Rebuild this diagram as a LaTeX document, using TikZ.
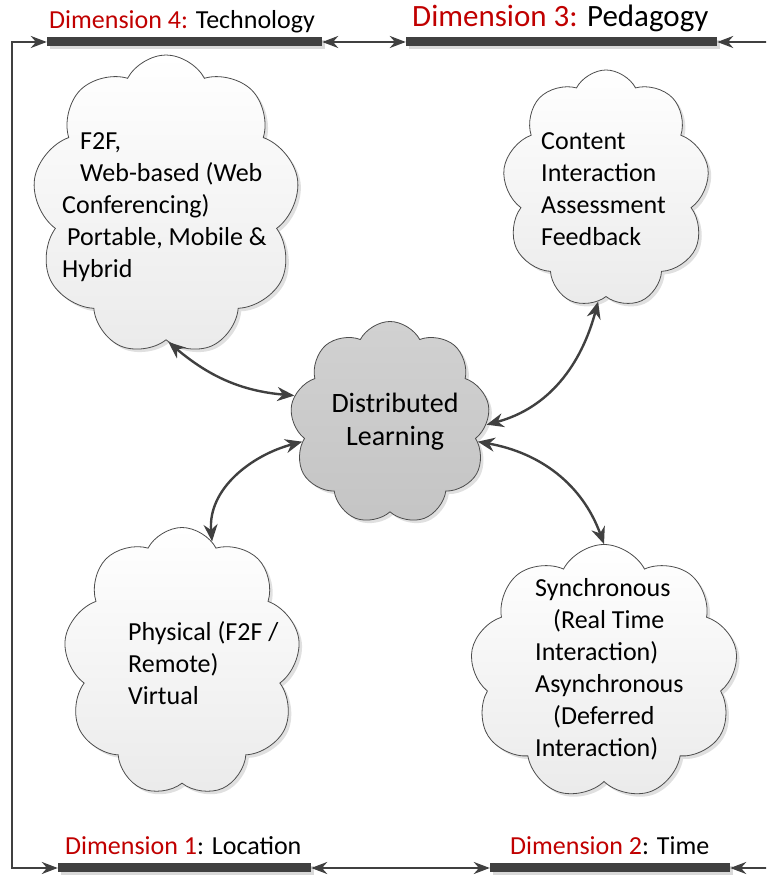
\documentclass[tikz,border=0pt]{standalone}
\usepackage{fontspec}
\setmainfont{Carlito}
\usepackage{xcolor}
\usetikzlibrary{arrows.meta}
\usetikzlibrary{shapes.symbols}
\usetikzlibrary{shadows}

\definecolor{dimred}{RGB}{192,0,0}
\definecolor{linegray}{RGB}{64,64,64}

\tikzset{
	bar/.style={fill=linegray, minimum height=9pt, inner sep=0pt,
		drop shadow={shadow xshift=3pt, shadow yshift=-3pt, fill=black!15, opacity=1}},
	framearrow/.style={draw=linegray, line width=2.2pt,
		{Stealth[length=16pt,width=12pt]}-{Stealth[length=16pt,width=12pt]}},
	dimlabel/.style={anchor=base west, inner sep=0pt, font=\fontsize{26}{31}\selectfont},
	cloudbox/.style={cloud, cloud puffs=9, cloud puff arc=125, cloud ignores aspect,
		draw=black!70, line width=0.8pt, top color=white, bottom color=black!8, inner sep=0pt,
		drop shadow={shadow xshift=3pt, shadow yshift=-3pt, fill=black!12, opacity=1}},
	cloudtext/.style={anchor=west, align=left, inner sep=0pt, font=\fontsize{26}{32}\selectfont},
	link/.style={draw=linegray, line width=2.4pt,
		{Stealth[length=17pt,width=14pt]}-{Stealth[length=17pt,width=14pt]}}
}

\begin{document}
\begin{tikzpicture}[x=1pt,y=1pt]
	\useasboundingbox (0,0) rectangle (766,875);
	\clip (0,0) rectangle (766,875);
	
	\node[bar, minimum width=275pt] (bar4) at (184.5,833) {};
	\node[bar, minimum width=311pt] (bar3) at (561.5,833) {};
	\node[bar, minimum width=253pt] (bar1) at (184.5,7) {};
	\node[bar, minimum width=240pt] (bar2) at (610,7) {};
	
	\node[dimlabel] (lab4) at (49,846) {\textcolor{dimred}{Dimension 4:} Technology};
	\node[dimlabel, font=\fontsize{31}{37}\selectfont] (lab3) at (412,848) {\textcolor{dimred}{Dimension 3:} Pedagogy};
	\node[dimlabel] (lab1) at (65,20) {\textcolor{dimred}{Dimension 1}: Location};
	\node[dimlabel] (lab2) at (510,20) {\textcolor{dimred}{Dimension 2}: Time};
	
	\coordinate (lefttop) at (12,833);
	\coordinate (leftbot) at (12,7);
	\coordinate (righttop) at (775,833);
	\coordinate (rightbot) at (775,7);
	\draw[framearrow] (bar4.west) -- (lefttop) -- (leftbot) -- (bar1.west);
	\draw[framearrow] (bar3.east) -- (righttop) -- (rightbot) -- (bar2.east);
	\draw[framearrow] (bar4.east) -- (bar3.west);
	\draw[framearrow] (bar1.east) -- (bar2.west);
	
	\node[cloudbox, minimum width=267pt, minimum height=300pt] (tech) at (166,670) {};
	\node[cloudbox, minimum width=207pt, minimum height=238pt] (ped) at (606,686) {};
	\node[cloudbox, minimum width=237pt, minimum height=269pt] (loc) at (182,213) {};
	\node[cloudbox, minimum width=268pt, minimum height=255pt] (time) at (604,203) {};
	\node[cloudbox, top color=black!18, bottom color=black!23, minimum width=200pt, minimum height=203pt] (dl) at (390,452) {};
	
	\node[cloudtext] (techtext) at (62,668) {\hspace*{18pt}F2F,\\\hspace*{18pt}Web-based (Web\\Conferencing)\\\hspace*{5pt}Portable, Mobile \&\\Hybrid};
	\node[cloudtext] (pedtext) at (541,686) {Content\\Interaction\\Assessment\\Feedback};
	\node[cloudtext] (loctext) at (128,212) {Physical (F2F /\\Remote)\\Virtual};
	\node[cloudtext] (timetext) at (535,206) {Synchronous\\\hspace*{18pt}(Real Time\\Interaction)\\Asynchronous\\\hspace*{18pt}(Deferred\\Interaction)};
	\node[font=\fontsize{28}{33}\selectfont, align=center, inner sep=0pt] (dltext) at (395,453) {Distributed\\Learning};
	
	\draw[link] (tech.-89) to[out=-40,in=175] (dl.164);
	\draw[link] (loc.76) to[out=95,in=195] (dl.192);
	\draw[link] (dl.-1) to[out=15,in=-105] (ped.-94);
	\draw[link] (dl.-12) to[out=-10,in=110] (time.90);
\end{tikzpicture}
\end{document}
